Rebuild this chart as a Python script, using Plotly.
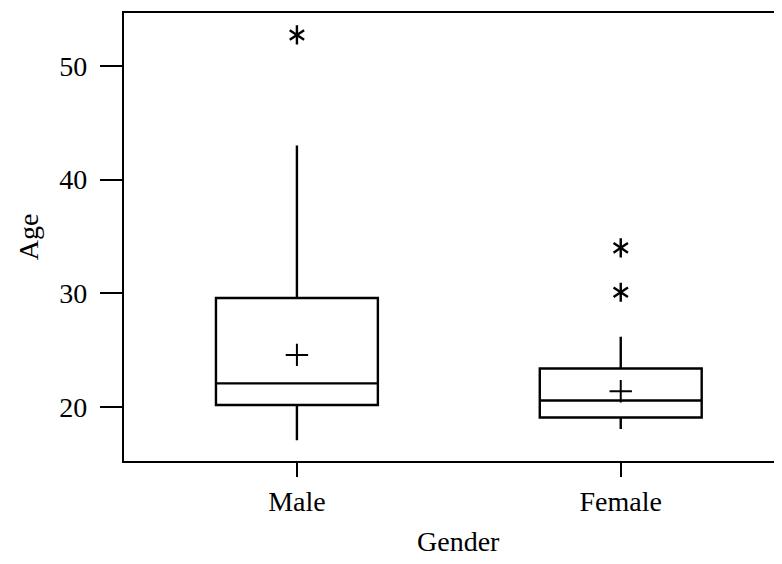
import plotly.graph_objects as go

categories = ["Male", "Female"]
q1 = [20.2, 19.1]
median = [22.1, 20.6]
q3 = [29.6, 23.4]
lower_whisker = [17.1, 18.1]
upper_whisker = [43.0, 26.2]
means = [24.6, 21.4]
outlier_groups = ["Male", "Female", "Female"]
outlier_values = [52.7, 34.0, 30.1]

FONT = "Liberation Serif"

fig = go.Figure()
fig.add_trace(go.Box(
    x=categories, q1=q1, median=median, q3=q3,
    lowerfence=lower_whisker, upperfence=upper_whisker,
    width=0.5, whiskerwidth=0, fillcolor="white",
    line=dict(color="black", width=2.4), boxpoints=False,
    showlegend=False, hoverinfo="skip",
))
fig.add_trace(go.Scatter(
    x=categories, y=means, mode="markers",
    marker=dict(symbol="cross-thin-open", size=16, color="black",
                line=dict(color="black", width=2)),
    showlegend=False,
))
# six-armed asterisk = "y-up" + "y-down" glyphs overlaid
for sym in ["y-up-open", "y-down-open"]:
    fig.add_trace(go.Scatter(
        x=outlier_groups, y=outlier_values, mode="markers",
        marker=dict(symbol=sym, size=12, color="black",
                    line=dict(color="black", width=2.4)),
        showlegend=False,
    ))

# the page body adds an 8px margin, so the figure is sized to avoid scrollbars
fig.update_layout(
    width=774, height=548,
    margin=dict(l=116, r=0, t=5, b=95),
    paper_bgcolor="white", plot_bgcolor="white",
    font=dict(family=FONT, size=28, color="black"),
    xaxis=dict(
        type="category", categoryorder="array", categoryarray=categories,
        range=[-0.534, 1.498], automargin=False,
        showline=True, linecolor="black", linewidth=2.4, mirror=True,
        ticks="outside", ticklen=14, tickwidth=2.4, tickcolor="black",
        showgrid=False, zeroline=False,
        tickfont=dict(family=FONT, size=28),
    ),
    yaxis=dict(
        range=[15.28, 54.63], automargin=False,
        tickvals=[20, 30, 40, 50],
        showline=True, linecolor="black", linewidth=2.4, mirror=False,
        ticks="outside", ticklen=22, tickwidth=2.4, tickcolor="black",
        showgrid=False, zeroline=False,
        tickfont=dict(family=FONT, size=28),
        ticklabelstandoff=7,
        title=dict(text="Age", font=dict(family=FONT, size=28), standoff=12),
    ),
    annotations=[dict(
        text="Gender", xref="x", yref="paper", x=0.5, y=0,
        xanchor="center", yanchor="middle", yshift=-80, showarrow=False,
        font=dict(family=FONT, size=28, color="black"),
    )],
)

fig.write_html("out.html")
